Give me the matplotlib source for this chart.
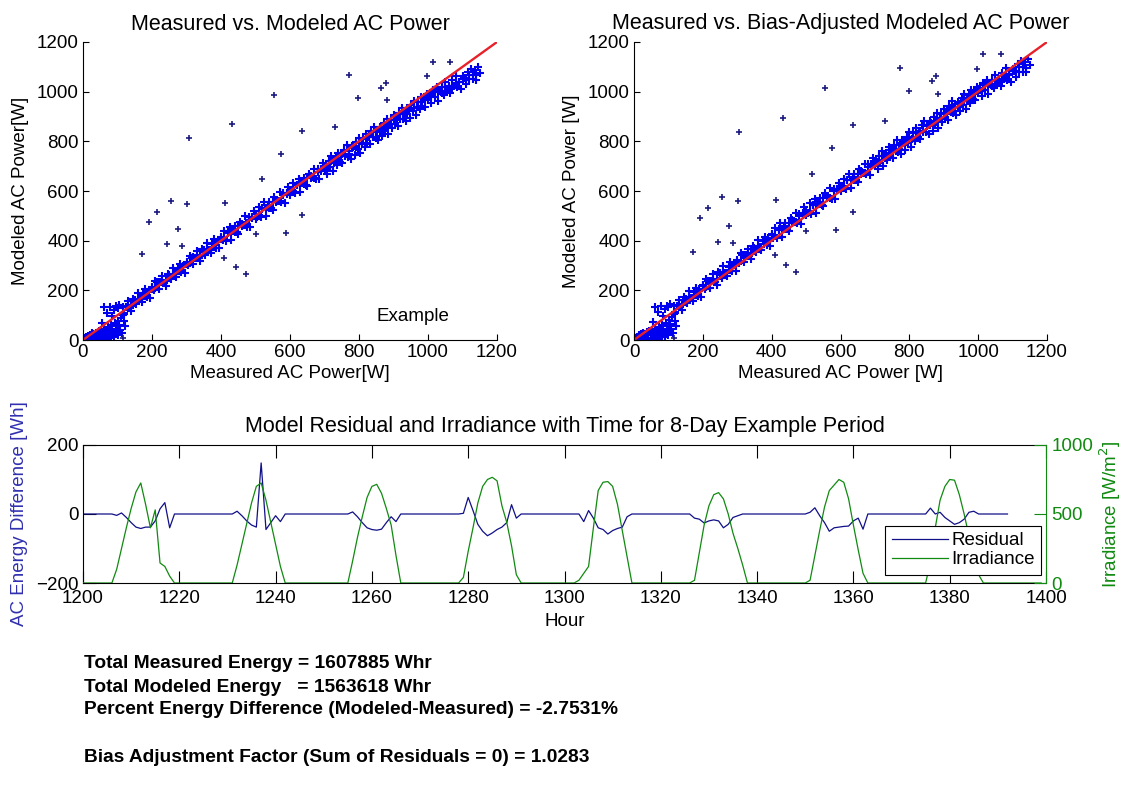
"""
Measured vs. modeled AC power scatter plots plus residual / irradiance time series.
"""

import numpy as np
import matplotlib
matplotlib.use("Agg")
import matplotlib.pyplot as plt

plt.rcParams["font.family"] = ["Liberation Sans", "DejaVu Sans"]

# ---------------------------------------------------------------- data
# band of points (measured W, modeled W)
measured_band = [
    3, 6, 8, 10, 12, 15, 18, 20, 22, 25, 28, 30, 32, 35, 38, 40, 42, 45, 48, 50,
    52, 55, 58, 60, 62, 65, 68, 70, 72, 75, 78, 80, 82, 85, 88, 90, 92, 95, 98, 100,
    102, 105, 108, 110, 112, 115, 118, 120, 122, 5, 10, 15, 20, 25, 55, 62, 70, 79, 85, 90,
    95, 100, 105,
    115, 120, 125, 130, 135, 140, 145, 150, 155, 160, 165, 170, 175, 180, 185, 190, 195, 200,
    205, 210, 215, 220, 225, 230, 235, 240, 245, 250, 255, 260, 265, 270, 275, 280, 285, 290,
    295, 300, 305, 310, 315, 320, 325, 330, 335, 340, 345, 350, 355, 360, 365, 370, 375, 380,
    385, 390, 395, 400,
    405, 410, 415, 420, 425, 430, 435, 440, 445, 450, 455, 460, 465, 470, 475, 480, 485, 490,
    495, 500, 505, 510, 515, 520, 525, 530, 535, 540, 545, 550, 555, 560, 565, 570, 575, 580,
    585, 590, 595, 600, 605, 610, 615, 620, 625, 630, 635, 640, 645, 650, 655, 660, 665, 670,
    675, 680, 685, 690, 695, 700,
    704, 708, 712, 716, 720, 724, 728, 732, 736, 740, 744, 748, 752, 756, 760, 764, 768, 772,
    776, 780, 784, 788, 792, 796, 800, 804, 808, 812, 816, 820, 824, 828, 832, 836, 840, 844,
    848, 852, 856, 860, 864, 868, 872, 876, 880, 884, 888, 892, 896, 900, 904, 908, 912, 916,
    920, 924, 928, 932, 936, 940, 944, 948, 952, 956, 960, 964, 968, 972, 976, 980, 984, 988,
    992, 996, 1000,
    1005, 1010, 1015, 1020, 1025, 1030, 1035, 1040, 1045, 1050, 1055, 1060, 1065, 1070, 1075,
    1080, 1085, 1090, 1095, 1100, 1105, 1110, 1115, 1120, 1125, 1130, 1135, 1140, 1145, 1150,
    130, 140, 150, 160, 170, 180, 190, 200, 210, 220, 230, 240, 250, 260, 270, 280, 290, 300,
    310, 320, 330, 340, 350, 360, 370, 380, 390, 400, 410, 420, 430, 440, 450, 460, 470, 480,
    490, 500, 510, 520, 530, 540, 550, 560, 570, 580, 590, 600, 610, 620, 630, 640, 650, 660,
    670, 680, 690, 700, 710, 720, 730, 740, 750, 760, 770, 780, 790, 800, 810, 820, 830, 840,
    850, 860, 870, 880, 890, 900, 910, 920, 930, 940, 950, 960, 970, 980, 990, 1000, 1010, 1020,
    1030, 1040, 1050, 1060, 1070, 1080, 1090, 1100, 1110, 1120, 1130, 1140,
]
modeled_band = [
    2, 0, 5, 12, 3, 8, 15, 4, 20, 10, 2, 25, 14, 6, 30, 18, 3, 35, 22, 8,
    40, 28, 12, 2, 45, 30, 18, 5, 52, 38, 22, 10, 60, 45, 28, 12, 68, 55, 35, 20,
    78, 62, 42, 90, 28, 100, 75, 110, 55, 8, 10, 18, 22, 28, 70, 131, 108, 134, 95, 120,
    135, 130, 140,
    132, 105, 132, 157, 129, 117, 167, 154, 144, 191, 164, 152, 187, 205, 172, 198, 170, 215,
    201, 239, 232, 205, 232, 257, 229, 217, 267, 254, 244, 291, 264, 252, 287, 305, 272, 298,
    270, 315, 301, 339, 332, 305, 332, 357, 329, 317, 367, 354, 344, 391, 364, 352, 387, 405,
    372, 398, 370, 415,
    401, 439, 398, 433, 457, 403, 440, 459, 433, 427, 477, 469, 463, 498, 457, 495, 455, 496,
    519, 489, 497, 535, 494, 530, 554, 499, 536, 555, 530, 524, 574, 565, 559, 594, 554, 592,
    551, 592, 615, 585, 594, 632, 590, 626, 650, 596, 633, 651, 626, 620, 670, 662, 655, 690,
    650, 688, 648, 688, 711, 681,
    701, 670, 721, 695, 739, 680, 713, 734, 704, 755, 718, 745, 713, 765, 740, 784, 738, 762,
    730, 782, 776, 745, 796, 770, 814, 755, 789, 809, 779, 830, 794, 820, 788, 840, 816, 859,
    813, 837, 806, 857, 851, 820, 872, 845, 889, 830, 864, 884, 854, 905, 869, 896, 863, 915,
    891, 935, 888, 912, 881, 933, 926, 895, 947, 921, 964, 905, 939, 960, 929, 980, 944, 971,
    938, 990, 966,
    988, 956, 1007, 978, 1020, 963, 1002, 1017, 986, 1039, 1001, 1024, 994, 1047, 1022,
    1064, 1018, 1040, 1011, 1063, 1054, 1030, 1081, 1051, 1092, 1051, 1089, 1048, 1100, 1075,
    136, 137, 161, 161, 164, 188, 193, 210, 209, 233, 236, 237, 261, 261, 264, 288, 293, 310,
    309, 333, 336, 337, 361, 361, 364, 388, 393, 410, 409, 432, 435, 436, 459, 459, 462, 485,
    490, 507, 505, 529, 531, 532, 556, 555, 558, 582, 586, 603, 602, 625, 628, 628, 652, 652,
    654, 678, 682, 699, 697, 721, 723, 724, 747, 746, 749, 772, 777, 793, 791, 815, 817, 818,
    841, 840, 843, 866, 871, 887, 885, 909, 911, 912, 935, 934, 937, 960, 965, 981, 977, 998,
    998, 996, 1017, 1014, 1014, 1036, 1038, 1052, 1048, 1069, 1069, 1067,
]

# isolated points away from the band
measured_out = [1065, 1015, 772, 997, 878, 865, 555, 798, 882, 433, 636, 306, 574, 518, 256,
                301, 413, 215, 636, 192, 276, 587, 244, 288, 501, 410, 172, 443, 472, 117, 730]
modeled_out = [1120, 1120, 1066, 1062, 1035, 1015, 988, 976, 965, 869, 842, 814, 751, 650, 559,
               546, 550, 515, 503, 476, 448, 432, 385, 379, 426, 331, 346, 294, 267, 7, 858]

bias_factor = 1.0283
total_measured = 1607885
total_modeled = 1563618
pct_diff = -2.7531

# time series: hourly values for each daylight period
day_start = [1206, 1231, 1255, 1278, 1302, 1326, 1350, 1375]
irr_day = [
    [0, 100, 250, 400, 540, 660, 725, 570, 400, 530, 145, 120, 50, 0],
    [0, 130, 280, 430, 580, 700, 725, 600, 440, 280, 120, 0],
    [0, 160, 330, 480, 620, 700, 715, 650, 540, 420, 200, 0],
    [0, 40, 230, 400, 580, 700, 750, 766, 740, 560, 440, 270, 60, 0],
    [0, 20, 70, 120, 400, 670, 730, 735, 700, 570, 380, 190, 0],
    [0, 20, 220, 420, 560, 640, 655, 610, 500, 360, 250, 130, 0],
    [0, 20, 200, 380, 550, 670, 710, 750, 730, 610, 420, 240, 70, 0],
    [0, 150, 400, 600, 700, 750, 745, 640, 500, 340, 180, 60, 0],
]
resid_day = [
    [0, -4, 3, -10, -25, -38, -42, -38, -38, -20, 15, 33, -40, 0],
    [0, 8, -5, -20, -32, -38, 148, -45, -25, -5, -22, 0],
    [0, 6, -8, -25, -40, -45, -47, -44, -25, -8, -22, 0],
    [0, 2, 48, 10, -30, -50, -63, -55, -45, -38, -25, 27, -12, 0],
    [0, 0, -22, 10, -12, -40, -45, -58, -48, -42, -38, -8, 0],
    [0, -12, -15, -26, -20, -17, -20, -40, -30, -10, -5, 0, 0],
    [0, 5, 18, -5, -25, -50, -40, -38, -36, -35, -20, -12, -44, 0],
    [0, 17, 0, 5, -10, -20, -30, -25, -15, 5, 8, 0, 0],
]
irr_hours = np.arange(1200, 1400)
resid_hours = np.arange(1200, 1393)

irradiance = np.zeros(len(irr_hours))
residual = np.zeros(len(resid_hours))
for start, iv, rv in zip(day_start, irr_day, resid_day):
    i0 = start - 1200
    irradiance[i0:i0 + len(iv)] = iv
    residual[i0:i0 + len(rv)] = rv

# ---------------------------------------------------------------- figure
W, H = 1127, 788
fig = plt.figure(figsize=(W / 100, H / 100), dpi=100)
fig.patch.set_facecolor("white")

FS = 13.5
BLUE = "#0000f0"
DARK = "#1a1a80"
RED = "#e8202a"
NAVY = "#101088"
GREEN = "#108a10"


def scatter_panel(ax, mod_band, mod_out, title, xlabel, ylabel):
    ax.plot(measured_band, mod_band, "+", color=BLUE, ms=5.8, mew=1.5)
    ax.plot(measured_out, mod_out, "+", color=DARK, ms=4.5, mew=1.2)
    ax.plot([0, 1200], [0, 1200], color=RED, lw=1.7)
    ax.set_xlim(0, 1200)
    ax.set_ylim(0, 1200)
    ax.set_xticks(range(0, 1201, 200))
    ax.set_yticks(range(0, 1201, 200))
    ax.spines["top"].set_visible(False)
    ax.spines["right"].set_visible(False)
    for s in ("left", "bottom"):
        ax.spines[s].set_linewidth(0.8)
    ax.tick_params(direction="in", length=4, width=0.8, labelsize=FS, pad=3)
    ax.set_title(title, fontsize=15.5, pad=9)
    ax.set_xlabel(xlabel, fontsize=FS, labelpad=3)
    ax.set_ylabel(ylabel, fontsize=FS, labelpad=6)


ax_l = fig.add_axes([83 / W, 1 - 340 / H, 414 / W, 298 / H])
scatter_panel(ax_l, modeled_band, modeled_out, "Measured vs. Modeled AC Power",
              "Measured AC Power[W]", "Modeled AC Power[W]")
ax_l.text(851, 93, "Example", fontsize=FS, va="center")

adj_band = [v * bias_factor for v in modeled_band]
adj_out = [v * bias_factor for v in modeled_out]
ax_r = fig.add_axes([634 / W, 1 - 340 / H, 413 / W, 298 / H])
scatter_panel(ax_r, adj_band, adj_out, "Measured vs. Bias-Adjusted Modeled AC Power",
              "Measured AC Power [W]", "Modeled AC Power [W]")

# bottom: residual and irradiance
ax_b = fig.add_axes([83 / W, 1 - 583 / H, 963 / W, 138 / H])
l1, = ax_b.plot(resid_hours, residual, color=NAVY, lw=0.9, label="Residual")
ax_b.set_xlim(1200, 1400)
ax_b.set_ylim(-200, 200)
ax_b.set_xticks(range(1200, 1401, 20))
ax_b.set_yticks([-200, 0, 200])
ax_b.spines["right"].set_visible(False)
for s in ("left", "bottom", "top"):
    ax_b.spines[s].set_linewidth(0.8)
ax_b.tick_params(direction="in", length=9, width=0.8, labelsize=FS, pad=3, top=True)
ax_b.tick_params(axis="x", pad=5)
ax_b.set_xlabel("Hour", fontsize=FS, labelpad=4)
ax_b.set_ylabel("AC Energy Difference [Wh]", fontsize=FS, color="#3030b0", labelpad=6)
ax_b.set_title("Model Residual and Irradiance with Time for 8-Day Example Period",
               fontsize=15.5, pad=9)

ax2 = ax_b.twinx()
l2, = ax2.plot(irr_hours, irradiance, color=GREEN, lw=0.9, label="Irradiance")
ax2.set_ylim(0, 1000)
ax2.set_yticks([0, 500, 1000])
for s in ("left", "bottom", "top"):
    ax2.spines[s].set_visible(False)
ax2.spines["right"].set_color(GREEN)
ax2.spines["right"].set_linewidth(0.8)
ax2.tick_params(direction="in", length=9, width=0.8, labelsize=FS, pad=4,
                colors=GREEN)
ax2.set_ylabel("Irradiance [W/m$^2$]", fontsize=FS, color=GREEN, labelpad=3)

leg = ax2.legend([l1, l2], ["Residual", "Irradiance"], loc="lower right",
                 bbox_to_anchor=(0.995, 0.058), borderaxespad=0, fontsize=FS,
                 fancybox=False, framealpha=1, edgecolor="black",
                 handlelength=3.0, handletextpad=0.15, labelspacing=0.1,
                 borderpad=0.35)
leg.get_frame().set_linewidth(0.8)

# summary text
lines = [
    (663, f"Total Measured Energy = {total_measured} Whr"),
    (687, f"Total Modeled Energy   = {total_modeled} Whr"),
    (710, f"Percent Energy Difference (Modeled-Measured) = {pct_diff}%"),
    (757, f"Bias Adjustment Factor (Sum of Residuals = 0) = {bias_factor}"),
]
for y, txt in lines:
    fig.text(84 / W, 1 - y / H, txt, fontsize=13.8, fontweight="bold", va="center")

fig.savefig("out.png", dpi=100, facecolor="white")
